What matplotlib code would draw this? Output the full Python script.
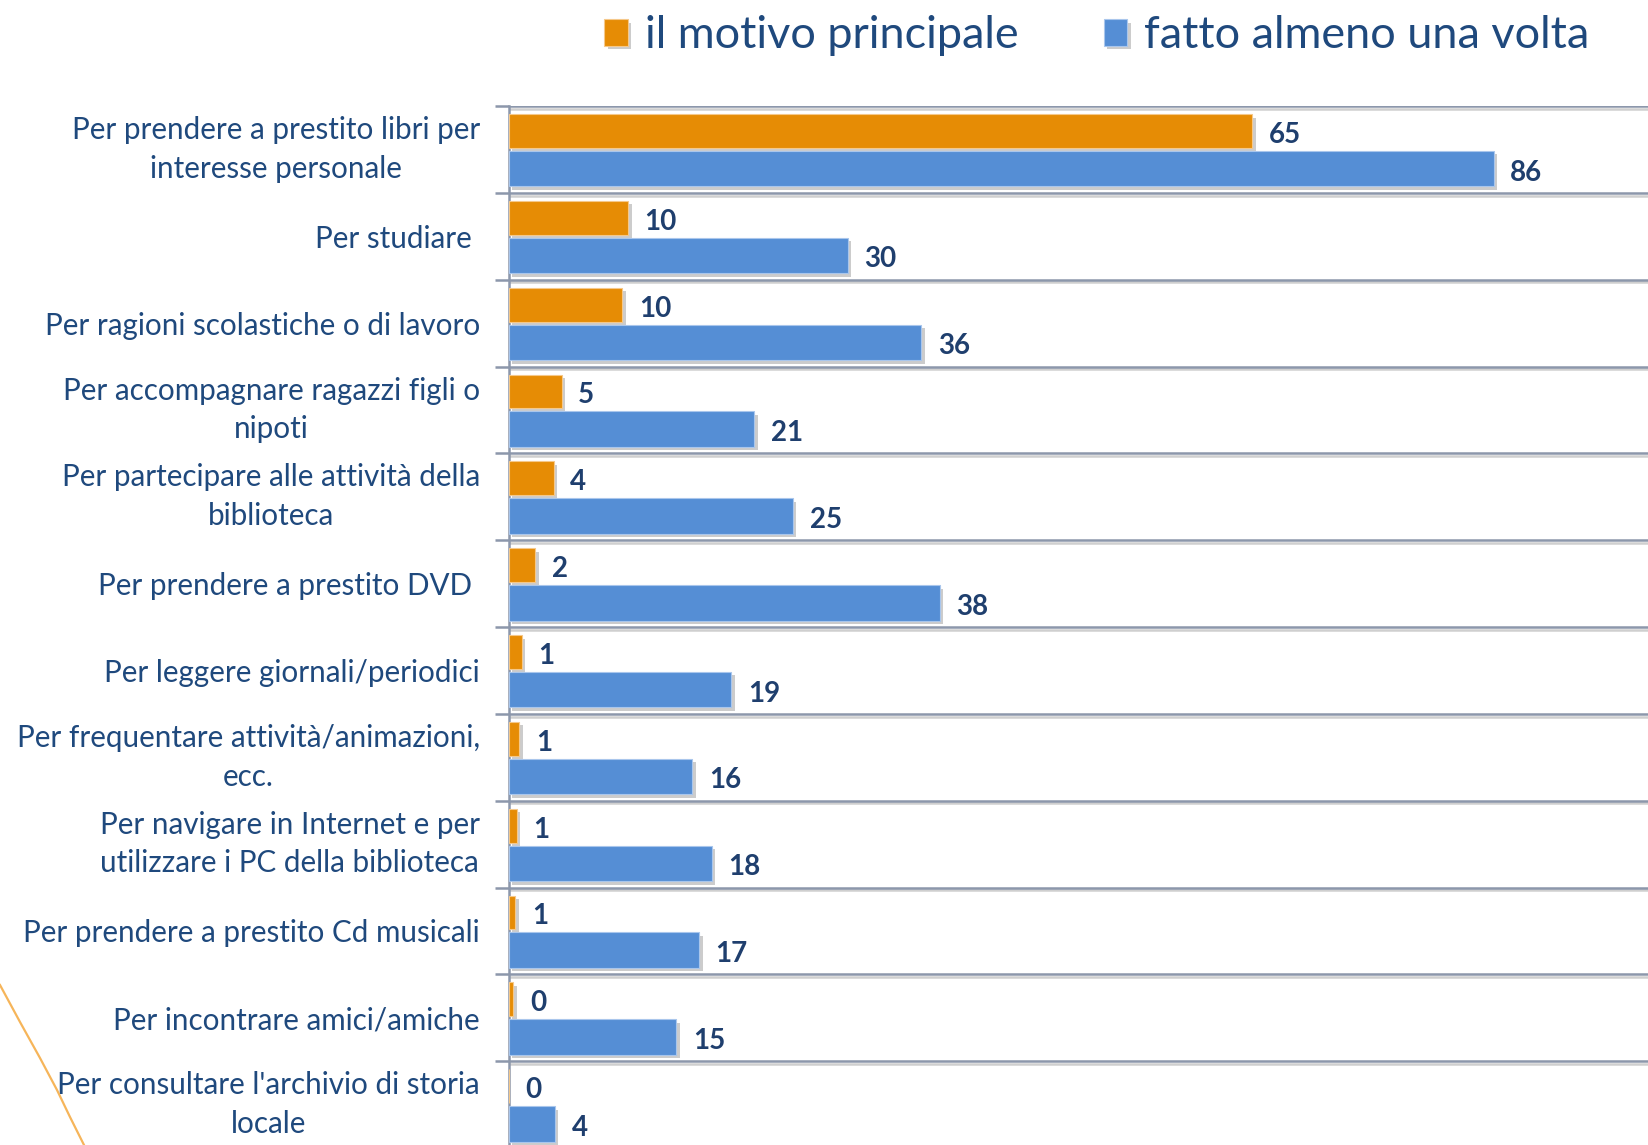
import matplotlib
matplotlib.use("Agg")
from matplotlib import pyplot as plt
from matplotlib import patheffects as pe
from matplotlib.lines import Line2D
import numpy as np

# categorie (dall'alto verso il basso)
categorie = [
    "Per prendere a prestito libri per\ninteresse personale",
    "Per studiare ",
    "Per ragioni scolastiche o di lavoro",
    "Per accompagnare ragazzi figli o\nnipoti",
    "Per partecipare alle attività della\nbiblioteca",
    "Per prendere a prestito DVD ",
    "Per leggere giornali/periodici",
    "Per frequentare attività/animazioni,\necc.",
    "Per navigare in Internet e per\nutilizzare i PC della biblioteca",
    "Per prendere a prestito Cd musicali",
    "Per incontrare amici/amiche",
    "Per consultare l'archivio di storia\nlocale",
]
motivo_principale = [64.9, 10.4, 9.9, 4.6, 3.9, 2.3, 1.1, 0.9, 0.7, 0.55, 0.37, 0.0]
almeno_una_volta = [86, 29.6, 36.0, 21.4, 24.8, 37.6, 19.4, 16.0, 17.7, 16.6, 14.6, 4.0]
serie_nomi = ["il motivo principale", "fatto almeno una volta"]

ARANCIO = "#E68C05"
BLU = "#558ED5"
TESTO = "#1F497D"
GRIGIO = "#8C97AB"

plt.rcParams["font.family"] = ["Lato", "DejaVu Sans"]

fig = plt.figure(figsize=(16.49, 11.45), dpi=100)
W, H = 1649, 1145
ax = fig.add_axes([509 / W, (H - 1148) / H, (W - 509) / W, (1148 - 106) / H])

y = np.arange(len(categorie))
ombra = [pe.SimplePatchShadow(offset=(2.5, -2.5), shadow_rgbFace="#9a9a9a", alpha=0.5), pe.Normal()]

b1 = ax.barh(y - 0.212, motivo_principale, height=0.39, color=ARANCIO,
             edgecolor="#F5C88A", linewidth=0.8, zorder=3)
b2 = ax.barh(y + 0.222, almeno_una_volta, height=0.41, color=BLU,
             edgecolor="#A9C6EC", linewidth=0.8, zorder=3)
for b in list(b1) + list(b2):
    if b.get_width() > 0:
        b.set_path_effects(ombra)

# etichette valori
for yy, v in zip(y - 0.212, motivo_principale):
    ax.text(v + 1.45, yy + 0.045, str(int(v + 0.5)), va="center", ha="left",
            fontsize=20, fontweight="bold", color="#1F3F6E")
for yy, v in zip(y + 0.222, almeno_una_volta):
    ax.text(v + 1.45, yy + 0.045, str(int(v + 0.5)), va="center", ha="left",
            fontsize=20, fontweight="bold", color="#1F3F6E")

# linee orizzontali tra le categorie
linea_ombra = [pe.SimpleLineShadow(offset=(0, -2), shadow_color="#777777", alpha=0.35), pe.Normal()]
for k in np.arange(-0.5, len(categorie), 1.0):
    ax.axhline(k, color=GRIGIO, lw=1.8, zorder=2, path_effects=linea_ombra)

ax.set_xlim(0, (W - 509) / 11.45)
ax.set_ylim(len(categorie) - 0.5, -0.5)
ax.set_xticks([])
ax.set_yticks(y)
ax.set_yticklabels(categorie, fontsize=21.3, color=TESTO, multialignment="center",
                   linespacing=1.47)
for lab in ax.get_yticklabels():
    if "\n" in lab.get_text():
        lab.set_verticalalignment("center")
ax.tick_params(axis="y", which="major", length=0, pad=21)
ax.set_yticks(np.arange(-0.5, len(categorie), 1.0), minor=True)
ax.tick_params(axis="y", which="minor", length=10, width=1.8, color=GRIGIO, direction="out")
for s in ["top", "right", "bottom"]:
    ax.spines[s].set_visible(False)
ax.spines["left"].set_color(GRIGIO)
ax.spines["left"].set_linewidth(1.8)

# legenda
fig.legend([b1, b2], serie_nomi, loc="center", bbox_to_anchor=(1097 / W, 1 - 36 / H),
           ncol=2, frameon=False, fontsize=32.4, labelcolor=TESTO,
           handlelength=0.52, handleheight=0.52, handletextpad=0.38, columnspacing=1.9)

# arco decorativo in basso a sinistra
arco_x = [0, 20, 40, 57, 70, 84]
arco_y = [985, 1022, 1058, 1090, 1117, 1145]
fig.add_artist(Line2D([v / W for v in arco_x], [1 - v / H for v in arco_y],
                      transform=fig.transFigure, color="#F6B55A", lw=1.6))

fig.savefig("out.png", dpi=100)
